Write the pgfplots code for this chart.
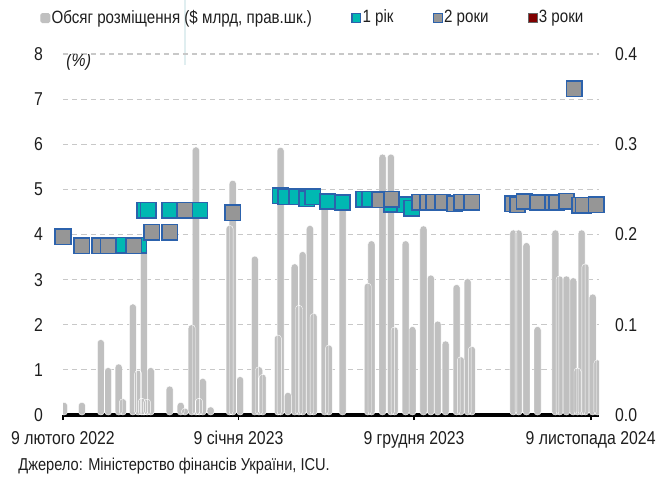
\documentclass[border=0pt]{standalone}
\usepackage{fontspec}
\setmainfont{Liberation Sans}[FakeStretch=0.85]
\usepackage{pgfplots}
\pgfplotsset{compat=1.18}
\definecolor{barg}{RGB}{192,192,192}
\definecolor{tealm}{RGB}{0,184,178}
\definecolor{graym}{RGB}{150,150,150}
\definecolor{bluem}{RGB}{44,98,172}
\definecolor{gridc}{RGB}{200,200,200}
\definecolor{redm}{RGB}{128,0,0}
\definecolor{txt}{RGB}{30,30,30}
\definecolor{palel}{RGB}{224,238,240}
\newcommand{\fnt}{\fontsize{9.3pt}{11pt}\selectfont}
\newcommand{\lfnt}{\fontsize{8.9pt}{11pt}\selectfont}
\newcommand{\sfnt}{\fontsize{8.6pt}{11pt}\selectfont}
\pgfplotsset{
  base/.style={at={(0pt,0pt)}, anchor=south west, scale only axis,
    width=268pt, height=180.5pt, xmin=0, xmax=1020,
    /pgf/number format/assume math mode=true,
    tick label style={font=\fnt, text=txt}},
}
\begin{document}
\begin{tikzpicture}[font=\fnt, text=txt]
\draw[palel, line width=1pt] (61pt,175pt) -- (61pt,207.5pt);
% axis 1: grid, x axis, left labels
\begin{axis}[base, ymin=0, ymax=8,
  axis x line*=bottom, axis y line*=left,
  y axis line style={draw=none},
  x axis line style={line width=1.6pt, black, -},
  ytick={0,1,...,8}, ytick style={draw=none},
  ymajorgrids, grid style={gridc, line width=0.6pt, dash pattern=on 2.6pt off 2pt},
  xtick={0,334,668,1004},
  xticklabels={9 лютого 2022, 9 січня 2023, 9 грудня 2023, 9 листопада 2024},
  xtick style={black, line width=0.9pt},
  major tick length=2.5pt, tick align=outside,
  yticklabel style={xshift=-4pt},
  xticklabel style={yshift=-2pt},
]
\addplot[draw=none] coordinates {(0,0)};
\node[font=\fnt\itshape] at (axis cs:30,7.82) {(\%)};
\end{axis}
% axis 2: bars, right axis
\begin{axis}[base, ymin=0, ymax=0.4,
  hide x axis, axis y line*=right, y axis line style={draw=none},
  ytick={0,0.1,0.2,0.3,0.4}, ytick style={draw=none},
  major tick length=2.5pt, tick align=outside,
  yticklabel style={/pgf/number format/fixed, /pgf/number format/fixed zerofill, /pgf/number format/precision=1},
  yticklabel style={xshift=2pt},
  ybar, bar width=3.5pt,
]
\addplot[fill=barg, draw=white, line width=0.2pt, rounded corners=1.6pt] coordinates {
(2,0.014) (36,0.014) (72,0.0835) (86,0.0525) (106,0.0565) (114,0.018)
(133,0.123) (143,0.0495) (150,0.0185) (154,0.185) (160,0.0175) (167,0.0525)
(203,0.032) (224,0.014) (232,0.0075) (245,0.100) (253,0.297) (259,0.0185)
(266,0.0405) (281,0.009) (317,0.210) (323,0.260) (337,0.0425) (365,0.176)
(373,0.0535) (380,0.045) (409,0.0885) (414,0.2965) (428,0.025) (441,0.1675)
(449,0.1215) (456,0.181) (470,0.210) (477,0.1125) (498,0.2325) (506,0.0775)
(532,0.235) (580,0.146) (587,0.193) (608,0.289) (624,0.289) (631,0.0975)
(652,0.193) (665,0.098) (686,0.2095) (700,0.155) (713,0.104) (728,0.082)
(749,0.1445) (757,0.0645) (770,0.151) (778,0.076) (857,0.205) (867,0.205)
(882,0.191) (903,0.098) (937,0.205) (945,0.154) (958,0.154) (971,0.152)
(979,0.052) (987,0.205) (994,0.1675) (1008,0.134) (1017,0.061)
};
\end{axis}
% axis 3: markers and legend
\begin{axis}[base, ymin=0, ymax=8, hide axis, clip=false,
  legend columns=4,
  legend style={at={(axis description cs:-0.043,1.0997)}, anchor=west,
    draw=none, fill=none, inner sep=0pt, font=\lfnt,
    nodes={inner sep=0.6pt},
    /tikz/every odd column/.append style={column sep=0pt},
    /tikz/every even column/.append style={column sep=19pt},
    cells={anchor=west}},
]
\addlegendimage{legend image code/.code={\fill[barg, rounded corners=0.8pt] (0pt,-2.3pt) rectangle (4.6pt,2.3pt);}}
\addlegendentry{Обсяг розміщення (\$ млрд, прав.шк.)}
\addplot[only marks, mark=square*, mark size=3.85pt,
  mark options={fill=tealm, draw=bluem, line width=0.8pt},
  legend image code/.code={\filldraw[fill=tealm, draw=bluem, line width=0.7pt] (0pt,-2.2pt) rectangle (4.4pt,2.2pt);}]
coordinates {
(110,3.76) (144,3.76) (156,4.54) (162,4.54) (203,4.54) (260,4.54)
(413,4.86) (424,4.84) (445,4.84) (464,4.79) (475,4.84) (504,4.73)
(532,4.71) (572,4.78) (584,4.78) (625,4.67) (650,4.66) (664,4.58)
};
\addlegendentry{1 рік}
\addplot[only marks, mark=square*, mark size=3.85pt,
  mark options={fill=graym, draw=bluem, line width=0.8pt},
  legend image code/.code={\filldraw[fill=graym, draw=bluem, line width=0.7pt] (0pt,-2.2pt) rectangle (4.4pt,2.2pt);}]
coordinates {
(0,3.95) (36,3.75) (70,3.75) (86,3.75) (135,3.75) (169,4.05) (203,4.05)
(232,4.54) (323,4.48) (603,4.77) (625,4.78) (679,4.72) (694,4.72)
(705,4.72) (722,4.72) (745,4.68) (759,4.72) (778,4.72) (856,4.68)
(865,4.66) (878,4.73) (903,4.71) (932,4.71) (939,4.71) (958,4.74)
(973,7.23) (983,4.65) (990,4.65) (1015,4.66)
};
\addlegendentry{2 роки}
\addlegendimage{legend image code/.code={\filldraw[fill=redm, draw=black!60, line width=0.5pt] (0pt,-2.2pt) rectangle (4.4pt,2.2pt);}}
\addlegendentry{3 роки}
\end{axis}
\node[anchor=west, inner sep=0pt, font=\sfnt] at (-22.5pt,-25.5pt) {Джерело: Міністерство фінансів України, ICU.};
\pgfresetboundingbox
\useasboundingbox (-31.5pt,-33.5pt) rectangle (299.5pt,207.5pt);
\end{tikzpicture}
\end{document}
